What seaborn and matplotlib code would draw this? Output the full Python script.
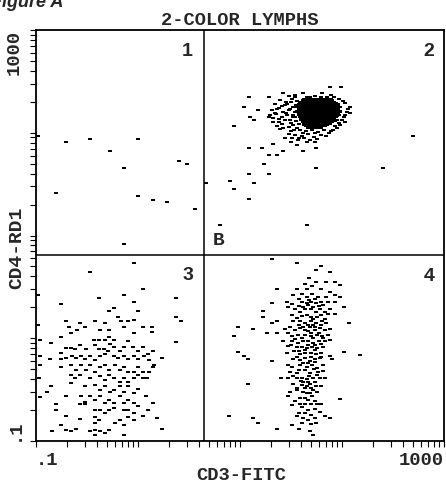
import numpy as np
import pandas as pd
import seaborn as sns
import matplotlib.pyplot as plt
from matplotlib.ticker import NullFormatter

# Flow cytometry list-mode data, stored as channels (0-1023) of a
# 4-decade log amplifier: 256 channels per decade, channel 0 = 0.1.
CD3_GATE_CH = 422
CD4_GATE_CH = 463

q1_cd3 = [4, 76, 136, 185, 256, 220, 358, 379, 51, 256, 293, 330, 400, 220]
q1_cd4 = [760, 744, 753, 722, 753, 681, 698, 690, 617, 610, 601, 595, 579, 490]

# quadrant 2: scattered events around the CD3+CD4+ population
q2_cd3 = [738, 765, 535, 584, 620, 671, 717, 523, 558, 536,
          546, 498, 584, 945, 535, 568, 594, 620, 584, 606,
          571, 656, 671, 703, 680, 703, 872, 535, 584, 487,
          546, 498, 535, 462, 680, 426,
          634, 651, 688, 730, 747, 613, 628, 642, 600, 617,
          631, 646, 592, 606, 621, 636, 651, 588, 603, 617,
          631, 646, 596, 611, 625, 640, 653, 605, 620, 634,
          648, 776, 787, 780, 789, 772, 776, 764, 663, 678,
          692, 707, 722, 740, 755, 634, 651, 667, 682, 697,
          728, 625, 642, 657, 673, 688,
          640, 655, 625, 652, 610, 638, 600, 628, 645, 595,
          610, 638, 650, 618, 645, 660, 612, 640, 655, 650,
          700, 715, 740, 760, 680, 770, 782, 775, 768, 760,
          750, 670, 700, 715, 735, 745, 660, 705, 640, 700]
q2_cd4 = [881, 883, 856, 856, 866, 866, 866, 833, 824, 808,
          800, 785, 808, 761, 729, 729, 740, 723, 712, 712,
          690, 737, 723, 729, 746, 681, 681, 664, 664, 649,
          642, 628, 602, 538, 538, 642,
          859, 856, 858, 858, 856, 849, 845, 851, 839, 834,
          839, 833, 824, 826, 820, 824, 820, 812, 815, 808,
          812, 806, 795, 795, 800, 793, 798, 785, 779, 783,
          776, 841, 833, 820, 818, 808, 795, 787, 775, 773,
          776, 771, 775, 773, 779, 765, 762, 760, 765, 758,
          760, 754, 756, 750, 754, 750,
          845, 848, 838, 838, 830, 828, 818, 816, 812, 805,
          802, 800, 806, 790, 788, 790, 778, 772, 780, 862,
          860, 857, 862, 852, 856, 848, 826, 812, 800, 792,
          785, 768, 768, 763, 768, 775, 755, 752, 745, 745]

# saturated core of the CD3+CD4+ cluster, read row by row
core_cd4_rows = [852, 849, 845, 842, 839, 836, 833, 830, 826, 823, 820, 817,
                 813, 810, 807, 804, 800, 797, 794, 791, 787, 784, 781]
core_cd3_rows = [
    [673, 681, 690, 698, 707, 715, 724, 732, 740],
    [669, 677, 686, 694, 702, 711, 719, 727, 736, 744],
    [664, 672, 680, 689, 697, 705, 714, 722, 730, 739, 747],
    [662, 670, 679, 687, 695, 704, 712, 720, 729, 737, 745, 753],
    [659, 667, 676, 684, 692, 701, 709, 717, 726, 734, 742, 751, 757],
    [658, 666, 674, 683, 691, 699, 708, 716, 724, 733, 741, 749, 758],
    [656, 664, 672, 681, 689, 697, 706, 714, 722, 731, 739, 747, 756, 763],
    [659, 667, 676, 684, 692, 701, 709, 717, 726, 734, 742, 751, 759],
    [659, 667, 676, 684, 692, 701, 709, 717, 726, 734, 742, 751, 759],
    [656, 664, 672, 681, 689, 697, 706, 714, 722, 731, 739, 747, 756, 763],
    [656, 664, 672, 681, 689, 697, 706, 714, 722, 731, 739, 747, 756, 764],
    [659, 667, 676, 684, 692, 701, 709, 717, 726, 734, 742, 751, 759],
    [660, 668, 677, 685, 693, 702, 710, 718, 727, 735, 743, 752, 760],
    [663, 671, 680, 688, 696, 705, 713, 721, 730, 738, 746, 755],
    [662, 670, 679, 687, 695, 704, 712, 720, 729, 737, 745, 754],
    [666, 674, 683, 691, 699, 708, 716, 724, 733, 741, 749],
    [665, 673, 682, 690, 698, 707, 715, 723, 732, 740, 748, 755],
    [669, 677, 686, 694, 702, 711, 719, 727, 736, 744, 751],
    [669, 677, 686, 694, 702, 711, 719, 727, 736, 744],
    [672, 680, 689, 697, 705, 714, 722, 730, 738],
    [672, 680, 689, 697, 705, 714, 722, 730],
    [677, 685, 694, 702, 710, 718, 726],
    [682, 690, 699, 707, 715],
]

q3_cd3 = [245, 136, 268, 4, 159, 220, 245, 352, 62, 196,
          184, 255, 352, 365, 4, 76, 82, 111, 123, 149,
          172, 161, 184, 205, 213, 232, 245, 221, 245, 268,
          292, 292, 62, 87, 104, 37, 10, 75, 62, 87,
          98, 111, 126, 146, 159, 172, 184, 197, 196, 186,
          171, 159, 149, 211, 220, 232, 243, 256, 268, 281,
          293, 316, 352, 9, 34, 62, 75, 90, 101, 113,
          123, 136, 149, 161, 172, 180, 195, 207, 220, 232,
          245, 257, 272, 284, 295, 9, 62, 87, 101, 113,
          126, 136, 149, 161, 174, 184, 199, 210, 221, 232,
          245, 257, 268, 283, 293, 8, 87, 98, 111, 136,
          161, 172, 184, 197, 210, 221, 232, 245, 256, 268,
          278, 38, 27, 87, 123, 149, 161, 174, 186, 197,
          210, 221, 232, 245, 256, 277, 9, 76, 113, 123,
          136, 149, 161, 172, 184, 197, 210, 221, 232, 245,
          256, 293, 51, 51, 76, 111, 123, 149, 161, 172,
          184, 197, 221, 232, 245, 268, 281, 303, 62, 111,
          149, 149, 159, 199, 210, 221, 232, 245, 40, 76,
          87, 101, 136, 149, 161, 172, 184, 221, 149, 316]
q3_cd4 = [443, 420, 379, 364, 357, 364, 347, 357, 341, 331,
          325, 324, 310, 300, 288, 299, 283, 293, 283, 299,
          293, 277, 277, 310, 299, 299, 302, 283, 269, 283,
          283, 271, 260, 269, 277, 245, 252, 231, 219, 231,
          230, 239, 230, 252, 252, 252, 260, 252, 235, 242,
          229, 229, 238, 225, 235, 248, 235, 225, 235, 217,
          225, 206, 246, 212, 205, 205, 206, 212, 206, 212,
          204, 212, 202, 212, 217, 225, 212, 206, 212, 205,
          212, 205, 212, 202, 190, 190, 184, 190, 177, 190,
          177, 190, 171, 184, 190, 177, 190, 177, 184, 171,
          171, 184, 171, 171, 184, 156, 165, 156, 165, 156,
          162, 152, 165, 156, 146, 156, 146, 156, 165, 156,
          156, 136, 123, 144, 136, 140, 127, 136, 123, 127,
          136, 123, 136, 119, 129, 111, 109, 111, 111, 98,
          111, 102, 111, 94, 102, 94, 111, 94, 102, 94,
          86, 94, 93, 78, 63, 93, 93, 78, 78, 69,
          78, 82, 78, 78, 69, 63, 78, 57, 40, 54,
          61, 44, 53, 44, 53, 40, 61, 53, 24, 28,
          24, 29, 24, 28, 24, 19, 28, 15, 15, 29]

q4_cd3 = [593, 655, 715, 703, 738, 686, 675, 703, 727, 750,
          763, 606, 655, 679, 692, 715, 738, 646, 667, 679,
          692, 709, 727, 750, 763, 629, 643, 667, 679, 690,
          703, 715, 734, 750, 593, 633, 650, 663, 675, 690,
          703, 713, 725, 738, 774, 570, 570, 643, 667, 679,
          690, 704, 715, 734, 750, 606, 593, 646, 663, 675,
          690, 703, 717, 729, 786, 508, 545, 625, 637, 650,
          663, 675, 688, 700, 713, 725, 738, 497, 581, 606,
          632, 643, 657, 675, 690, 704, 717, 734, 619, 643,
          658, 671, 683, 696, 711, 725, 738, 633, 654, 667,
          679, 692, 704, 721, 508, 523, 533, 593, 629, 648,
          663, 675, 690, 703, 715, 738, 774, 813, 646, 663,
          675, 688, 700, 713, 742, 632, 643, 663, 679, 692,
          704, 721, 637, 654, 675, 688, 709, 615, 633, 654,
          667, 679, 696, 713, 725, 533, 646, 667, 679, 688,
          703, 715, 637, 654, 671, 688, 704, 633, 663, 675,
          692, 763, 642, 663, 675, 690, 704, 715, 683, 699,
          713, 484, 545, 558, 654, 671, 683, 700, 725, 738,
          667, 690, 703, 643, 606, 661, 688, 696, 683, 671,
          696, 683, 671, 696, 683, 667, 696, 683, 675, 683,
          671, 683, 675, 696, 683, 667, 675,
          660, 700, 720, 685, 660, 710, 655, 695, 725, 700,
          660, 715, 690, 710, 650, 720, 640, 700, 715, 660,
          700, 690, 655, 715, 670, 700, 660, 698, 720, 645,
          685, 705, 665, 700, 655, 690, 680, 650, 700, 690,
          660]
q4_cd4 = [453, 443, 437, 426, 420, 405, 391, 395, 395, 395,
          389, 379, 379, 379, 385, 379, 372, 364, 366, 360,
          366, 360, 360, 364, 360, 347, 342, 347, 343, 347,
          343, 347, 347, 347, 343, 333, 328, 322, 328, 328,
          322, 328, 322, 328, 333, 325, 310, 314, 312, 314,
          310, 310, 314, 317, 317, 300, 295, 300, 298, 295,
          298, 293, 298, 293, 295, 283, 278, 278, 283, 277,
          281, 277, 283, 277, 281, 277, 278, 262, 269, 269,
          269, 262, 264, 264, 262, 264, 262, 264, 248, 250,
          244, 248, 250, 244, 250, 248, 252, 237, 234, 235,
          231, 235, 231, 235, 221, 212, 205, 200, 219, 223,
          217, 219, 220, 217, 220, 212, 221, 215, 205, 202,
          206, 200, 204, 206, 205, 190, 184, 190, 184, 190,
          181, 190, 173, 169, 176, 169, 173, 158, 158, 156,
          158, 154, 158, 158, 158, 141, 142, 140, 137, 142,
          136, 136, 121, 127, 123, 119, 123, 111, 107, 107,
          111, 104, 90, 93, 93, 93, 93, 93, 78, 79,
          73, 63, 57, 46, 63, 57, 53, 57, 63, 57,
          44, 43, 44, 40, 30, 30, 24, 14, 339, 335,
          335, 289, 285, 289, 273, 256, 256, 239, 227, 194,
          148, 148, 132, 127, 103, 84, 69,
          355, 353, 340, 352, 336, 336, 307, 305, 305, 285,
          288, 288, 270, 270, 255, 257, 240, 240, 242, 225,
          226, 210, 210, 210, 195, 196, 178, 180, 175, 163,
          163, 165, 150, 148, 132, 133, 120, 100, 100, 65,
          70]


def to_linear(ch):
    # channel -> relative fluorescence (0.1 .. 1000)
    return 0.1 * 10 ** (np.asarray(ch, dtype=float) / 256)


core_cd3 = [c for row in core_cd3_rows for c in row]
core_cd4 = [y for y, row in zip(core_cd4_rows, core_cd3_rows) for _ in row]

cd3_ch = q1_cd3 + q2_cd3 + core_cd3 + q3_cd3 + q4_cd3
cd4_ch = q1_cd4 + q2_cd4 + core_cd4 + q3_cd4 + q4_cd4
df = pd.DataFrame({"CD3": to_linear(cd3_ch), "CD4": to_linear(cd4_ch)})

sns.set_style("ticks")
plt.rcParams["font.family"] = ["Liberation Mono", "DejaVu Sans Mono"]
mono = dict(family=["Liberation Mono", "DejaVu Sans Mono"], weight="bold")
sans = dict(family=["Liberation Sans", "DejaVu Sans"], weight="bold")

fig = plt.figure(figsize=(4.46, 4.83), dpi=100)
ax = fig.add_axes([36 / 446, 1 - 441 / 483, 408 / 446, 411 / 483])

# events are drawn as small dashes, as on the cytometer printout
dash = [(-1.5, -1.0), (1.5, -1.0), (1.5, 1.0), (-1.5, 1.0), (-1.5, -1.0)]
sns.scatterplot(data=df, x="CD3", y="CD4", ax=ax, marker=dash, s=5,
                color="black", linewidth=0, legend=False)

ax.set_xscale("log")
ax.set_yscale("log")
ax.set_xlim(0.1, 1000)
ax.set_ylim(0.1, 1000)

ax.axvline(to_linear(CD3_GATE_CH), color="black", lw=1.1)
ax.axhline(to_linear(CD4_GATE_CH), color="black", lw=1.1)

decades = [0.1, 1, 10, 100, 1000]
ax.set_xticks(decades, [".1", "", "", "", "1000"])
ax.set_yticks(decades, [".1", "", "", "", "1000"])
ax.xaxis.set_minor_formatter(NullFormatter())
ax.yaxis.set_minor_formatter(NullFormatter())
ax.tick_params(which="both", direction="out", length=4, width=0.8,
               color="black", labelsize=13.5, pad=4)
ax.tick_params(axis="y", which="both", length=4.5, labelrotation=90, pad=5)

for t in ax.get_xticklabels() + ax.get_yticklabels():
    t.set_fontweight("bold")
xl = ax.get_xticklabels()
xl[0].set_ha("left")
xl[-1].set_ha("right")
yl = ax.get_yticklabels()
yl[0].set_va("bottom")
yl[-1].set_va("top")

for sp in ax.spines.values():
    sp.set_linewidth(1.3)
    sp.set_color("black")

ax.set_title("2-COLOR LYMPHS", pad=3.6, fontsize=13.5, **mono)
ax.set_xlabel("CD3-FITC", fontsize=13.5, **mono)
ax.set_ylabel("CD4-RD1", fontsize=14, **mono)
ax.xaxis.set_label_coords(0.502, -0.063)
ax.yaxis.set_label_coords(-0.027, 0.47)

# quadrant numbers
for q, xq, yq in [("1", 0.385, 0.968), ("2", 0.975, 0.968),
                  ("3", 0.385, 0.423), ("4", 0.978, 0.421)]:
    ax.text(xq, yq, q, transform=ax.transAxes, ha="right", va="top",
            fontsize=14, **sans)
ax.text(0.434, 0.477, "B", transform=ax.transAxes, ha="left",
        va="baseline", fontsize=14, **mono)

fig.text(-0.02, 1 - 7 / 483, "Figure A", fontsize=13, style="italic",
         va="baseline", **sans)

fig.savefig("out.png", dpi=100)
